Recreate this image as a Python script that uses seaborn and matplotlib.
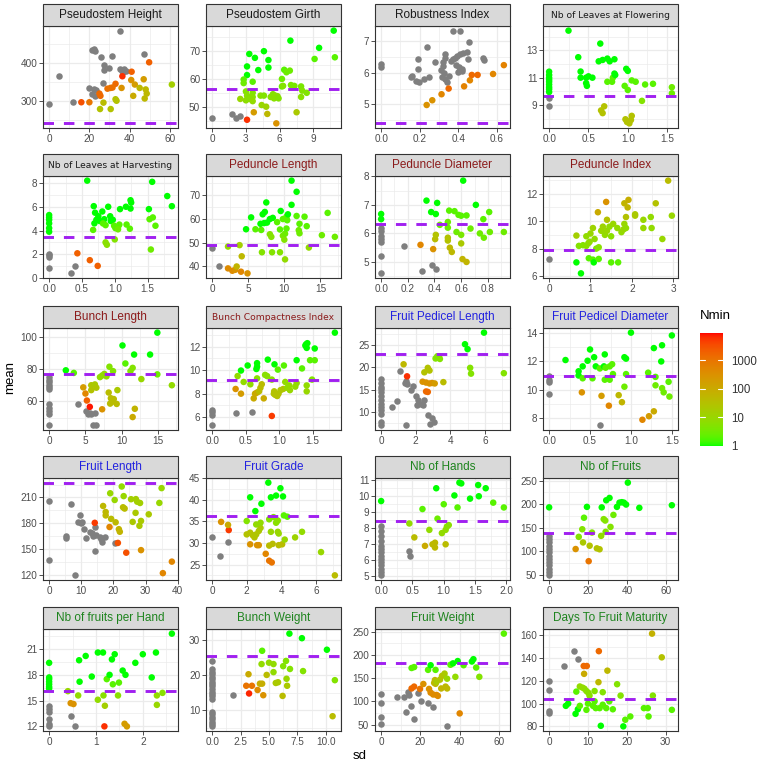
import numpy as np
import pandas as pd
import matplotlib
matplotlib.use("Agg")
import matplotlib.pyplot as plt
import seaborn as sns
from matplotlib.colors import ListedColormap, LogNorm
from matplotlib.ticker import FixedLocator, AutoMinorLocator
from matplotlib.patches import Rectangle
import matplotlib.colorbar as mcb

NA = float("nan")

# ---------------- data: (sd, mean, Nmin) per trait ----------------
ph_pts = [(0,291,NA),(4.8,366,NA),(12,297,NA),(35,486,NA),(21.5,434,NA),(22.5,436,NA),(23,433,NA),(26,417,NA),
          (31,419,NA),(27.3,396,NA),(27.3,381,NA),(30,387,NA),(35,383,NA),(36,380,NA),(37,384,NA),(36.5,376,NA),
          (38,379,NA),(47,424,NA),(20,335,NA),(22.5,330,NA),(23.5,328,NA),(21.5,318,NA),(23,313,NA),(27,346,NA),
          (49.7,402,2000),(36.4,365,6000),(41,377,2000),(33,345,1500),(29,332,1200),(30.5,334,1000),(31.5,335,1200),
          (25,319,1500),(25.5,313,1500),(16,296,3000),(20,296,1000),(36,334,300),(40.8,355,300),(42.6,343,200),
          (47,357,200),(45,334,50),(41.8,313,100),(48,330,50),(48.5,319,50),(47.5,306,50),(33,304,30),(33.5,300,30),
          (25.3,278,30),(30.6,278,30),(27,295,40),(61,343,15)]
ph_hline = 240
ph_xticks = ["0", "20", "40", "60"]
ph_yticks = ["300", "400"]

pg_pts = [(0,46.1,NA),(1.8,47.4,NA),(2.1,46.1,NA),(2.5,46.6,NA),(3.1,45.3,6000),(5.7,44,300),(3.7,48,200),(4.9,47.4,50),
          (7.5,48,20),(3.3,69,1),(3.1,64.5,1),(3.1,61.4,1),(2.8,59.8,2),(3.8,67.6,1),(4.1,63.2,1),(4.6,70,1),(5,66.8,1),
          (5,64.1,1),(6.95,73.8,1),(9.1,67.2,2),(9.5,71.2,1),(10.8,77.4,1),(10.9,67.8,2),(3.6,59,2),(6.4,63.3,2),
          (6.9,63,3),(6.6,62.4,3),(6.2,60,3),(6.2,57.3,3),(7,57.8,4),(7.3,57.5,4),(7.9,57.3,4),(8,55.8,5),(8.4,55,5),
          (7.9,53.5,6),(3,55.5,5),(3.1,54,6),(3.2,53,5),(3,52.3,7),(3.3,52.8,6),(3.6,55,5),(3.6,53.5,6),(3.6,52,8),
          (4.3,54,6),(4.6,54,5),(5.2,53.5,6),(5.4,54.5,5),(5.6,54,6),(5.8,53.8,7),(5.5,53,6),(5.9,53,5),(4.4,50.6,10),
          (4.8,50,12),(2.5,52.8,10),(2.8,58.5,3),(6.3,57.5,5)]
pg_hline = 56.2
pg_xticks = ["0", "3", "6", "9"]
pg_yticks = ["50", "60", "70"]

ri_pts = [(0,6.27,NA),(0,6.17,NA),(0.373,7.31,NA),(0.407,7.33,NA),(0.24,6.81,NA),(0.453,6.98,NA),(0.19,6.43,NA),
          (0.19,6.12,NA),(0.28,6.35,NA),(0.33,6.59,NA),(0.33,6.45,NA),(0.32,6.33,NA),(0.32,6.22,NA),(0.31,6.1,NA),
          (0.325,6.0,NA),(0.315,5.86,NA),(0.33,5.81,NA),(0.34,5.7,NA),(0.36,6.38,NA),(0.37,6.43,NA),(0.385,6.48,NA),
          (0.395,6.53,NA),(0.41,6.59,NA),(0.425,6.62,NA),(0.445,6.64,NA),(0.39,6.24,NA),(0.405,6.17,NA),(0.42,6.12,NA),
          (0.42,6.07,NA),(0.45,6.43,NA),(0.16,5.91,NA),(0.155,5.86,NA),(0.18,5.73,NA),(0.195,5.7,NA),(0.22,5.81,NA),
          (0.25,5.86,NA),(0.53,6.48,NA),(0.535,6.41,NA),(0.4,6.02,NA),(0.35,5.9,NA),
          (0.236,4.98,300),(0.265,5.13,300),(0.313,5.32,500),(0.35,5.5,1500),(0.43,5.57,600),(0.46,5.76,500),
          (0.47,5.93,1500),(0.5,5.93,1500),(0.58,5.96,500),(0.636,6.24,600)]
ri_hline = 4.4
ri_xticks = ["0.0", "0.2", "0.4", "0.6"]
ri_yticks = ["5", "6", "7"]

nlf_pts = [(0,8.95,NA),(0,9.5,NA),(0,11.44,1),(0,11.2,1),(0,11.0,1),(0,10.85,1),(0,10.7,1),(0,10.5,1),(0,10.3,1),
           (0,10.15,1),(0,9.95,1),(0.246,14.45,1),(0.37,12.5,1),(0.4,11.45,1),(0.4,11.0,1),(0.47,11.0,1),(0.5,11.1,1),
           (0.47,10.6,1),(0.48,10.4,1),(0.55,11.0,1),(0.65,13.5,1),(0.63,12.2,1),(0.68,12.3,1),(0.74,12.4,1),
           (0.77,12.2,1),(0.83,12.35,1),(0.74,10.7,2),(0.8,10.7,2),(0.81,11.0,2),(0.83,11.3,1),(0.84,11.2,1),
           (0.96,10.4,2),(0.98,11.65,1),(1.0,11.5,1),(1.0,10.1,2),(1.05,10.8,2),(1.1,10.7,2),(1.22,10.5,2),
           (1.32,10.55,2),(1.18,9.3,5),(1.56,10.3,3),(1.56,9.85,3),(0.66,8.6,30),(0.68,8.4,30),(0.7,8.9,30),
           (0.97,7.95,30),(0.99,7.75,30),(1.02,7.65,30),(1.05,8.2,30),(1.04,7.9,30)]
nlf_hline = 9.68
nlf_xticks = ["0.0", "0.5", "1.0", "1.5"]
nlf_yticks = ["9", "11", "13"]

nlh_pts = [(0,0.83,NA),(0,1.94,NA),(0,2.05,NA),(0,1.8,NA),(0.33,0.39,NA),(0.39,0.97,NA),(0.43,2.08,2000),
           (0.62,1.5,2000),(0.74,1.02,2000),(0,5.3,1),(0,5.1,1),(0,4.9,1),(0,4.6,1),(0,4.2,1),(0,3.9,1),(0.58,8.2,1),
           (1.57,8.1,1),(1.8,6.9,1),(1.87,6.05,1),(0.68,6.05,1),(0.7,5.5,1),(0.75,5.2,1),(0.72,4.9,1),(0.77,4.8,1),
           (0.69,4.6,1),(0.67,4.05,2),(0.81,5.6,1),(0.84,4.95,1),(0.82,4.6,2),(0.86,4.45,2),(0.9,6.0,1),(0.93,5.2,1),
           (0.97,4.9,1),(0.94,4.8,1),(0.99,4.4,2),(1.01,4.2,2),(1.05,4.3,2),(1.07,4.5,2),(1.05,4.1,3),(1.08,5.8,1),
           (1.17,6.0,1),(1.24,5.85,1),(1.24,6.55,1),(1.25,6.35,1),(1.18,4.5,2),(1.23,4.15,2),(1.52,5.8,1),
           (1.53,4.95,2),(1.58,5.1,2),(1.62,4.4,2),(0.86,3.0,6),(0.88,2.8,6),(1.0,3.25,5),(1.55,2.4,3)]
nlh_hline = 3.45
nlh_xticks = ["0.0", "0.5", "1.0", "1.5"]
nlh_yticks = ["0", "2", "4", "6", "8"]

pl_pts = [(0,47.8,NA),(1.0,40.3,NA),(2.2,39.2,400),(2.8,38.2,400),(3.2,38.6,300),(4.0,37.8,500),(4.9,37.1,300),
          (3.4,40,60),(4.1,44.3,50),(3.8,49,15),(2.2,48.4,10),(4.7,55.7,1),(5.4,60.7,1),(6,55.7,2),(6.8,55.4,2),
          (6.7,58,1),(7.2,58.3,1),(7,62,1),(7.3,63,1),(7.5,67,1),(7.6,58.5,1),(8.0,60,1),(8.4,60.5,1),(8.0,53.6,5),
          (8.2,52.5,5),(6.9,46,5),(8.3,46,5),(9.0,58.7,2),(9.5,63.4,1),(9.8,60,2),(9.4,55.6,2),(9.8,53,4),(10,51.3,5),
          (10.1,53.8,3),(10.3,56,2),(10.4,59.5,2),(10.3,61,2),(10.5,62,1),(11,76.2,1),(11,66,1),(11.7,71.5,1),
          (11.7,61.3,2),(12.1,58,2),(12,55.3,3),(12.1,54,3),(12.8,61,2),(13.1,57,2),(13.4,48,8),(15.2,53.2,3),
          (16,62.6,2),(17,52.5,3),(10.1,43,8),(9.4,46,5)]
pl_hline = 49
pl_xticks = ["0", "5", "10", "15"]
pl_yticks = ["40", "50", "60", "70"]

pd_pts = [(0,6.2,NA),(0,5.9,NA),(0,5.8,NA),(0,5.7,NA),(0,5.2,NA),(0,4.6,NA),(0,6.1,NA),(0,6.68,1),(0,6.5,1),
          (0.17,5.55,NA),(0.31,4.7,NA),(0.38,4.9,NA),(0.41,4.75,NA),(0.295,5.6,500),(0.39,5.45,300),(0.405,5.8,40),
          (0.41,5.95,30),(0.5,5.85,30),(0.5,5.75,30),(0.515,5.5,50),(0.53,5.35,50),(0.61,5.1,60),(0.64,5.0,60),
          (0.6,5.65,20),(0.34,7.15,1),(0.42,7.07,1),(0.375,6.75,1),(0.41,6.68,1),(0.615,7.85,1),(0.51,6.8,2),
          (0.55,6.78,2),(0.58,6.65,2),(0.6,6.62,2),(0.64,6.63,2),(0.71,7.0,1),(0.766,6.5,2),(0.81,6.75,2),
          (0.92,6.05,3),(0.44,6.3,3),(0.5,6.2,3),(0.565,6.05,3),(0.6,5.95,4),(0.67,6.17,3),(0.74,6.0,3),
          (0.77,5.85,3),(0.815,6.05,3),(0.5,6.4,3)]
pd_hline = 6.32
pd_xticks = ["0.0", "0.2", "0.4", "0.6", "0.8"]
pd_yticks = ["5", "6", "7", "8"]

pi_pts = [(0,7.25,NA),(0.66,7.0,1),(0.77,6.2,1),(0.96,7.3,2),(1.06,7.2,2),(1.08,7.0,1),(1.2,7.25,2),(1.5,7.0,2),
          (1.67,7.0,2),(0.66,8.95,15),(0.72,8.2,5),(0.82,8.25,5),(0.9,8.2,6),(0.95,8.4,6),(0.98,8.5,8),(1.0,9.1,10),
          (1.06,9.5,12),(1.1,8.7,8),(1.14,8.0,5),(1.26,9.3,10),(1.3,9.6,12),(1.35,9.0,8),(1.4,9.3,10),(1.46,9.6,8),
          (1.5,8.9,6),(1.55,9.8,10),(1.65,9.5,8),(1.75,9.2,8),(1.8,9.4,10),(1.82,9.8,10),(1.86,9.5,8),(0.9,8.9,8),
          (1.2,8.1,6),(1.18,10.65,100),(1.38,11.4,300),(1.4,10.1,30),(1.82,11.3,60),(1.92,11.55,80),(1.9,11.0,60),
          (1.86,10.3,30),(2.08,10.4,20),(2.08,10.5,20),(2.28,10.1,10),(2.28,9.5,10),(2.46,10.3,8),(2.48,9.5,8),
          (2.58,11.3,30),(2.74,8.7,10),(2.88,12.95,40),(2.97,10.4,10)]
pi_hline = 7.92
pi_xticks = ["0", "1", "2", "3"]
pi_yticks = ["6", "8", "10", "12"]

bl_pts = [(0,75,NA),(0,73.4,NA),(0,72,NA),(0,70.4,NA),(0,69,NA),(0,67.5,NA),(0,58.4,NA),(0,56,NA),(0,54.4,NA),
          (0,52.6,NA),(0,45.3,NA),(4,58.6,NA),(5.1,54,NA),(5.4,52.6,NA),(5.8,52,NA),(5.6,53,NA),(6.3,53,NA),
          (6,45.3,NA),(6.5,45.3,NA),(5.6,56.7,8000),(5.2,60.6,2000),(5,64.9,500),(4.7,68.7,200),(7.3,55.2,300),
          (5.8,67,30),(5.8,70,25),(6.3,70.5,20),(6.5,68.5,25),(8.2,65.5,40),(8.5,62,40),(8.8,60,40),(8.9,61.5,40),
          (9.3,58.5,40),(8.4,58.7,40),(9.4,67,20),(11.8,55.5,60),(11.5,50.4,100),(7.0,75,8),(7.3,76,8),(7.6,77,8),
          (7.9,75.5,8),(8.3,81.4,5),(8.8,78.7,5),(11.5,80.7,5),(11.2,78.7,5),(12.7,73.8,10),(16.9,70,8),
          (2.3,79.2,1),(3.4,77.6,2),(10.1,94.5,1),(10.5,83.4,2),(11.7,88.9,1),(13.9,88.9,1),(14.9,102.4,1),
          (14.9,76.7,3)]
bl_hline = 76.7
bl_xticks = ["0", "5", "10", "15"]
bl_yticks = ["60", "80", "100"]

bci_pts = [(0,6.6,NA),(0,6.45,NA),(0,6.2,NA),(0,5.3,NA),(0.35,6.35,NA),(0.59,6.4,NA),(0.89,6.1,5000),(0.35,8.4,300),
           (0.43,8.0,200),(0.62,7.6,100),(0.64,8.0,100),(0.67,8.1,100),(0.77,7.6,100),(0.7,8.2,40),(0.72,8.5,40),
           (0.74,8.8,40),(0.92,8.0,30),(0.94,7.9,30),(0.97,7.8,30),(0.99,8.0,30),(0.925,8.2,30),(1.02,8.3,25),
           (1.06,8.4,25),(0.38,9.5,8),(0.47,9.0,8),(0.57,8.8,8),(0.67,9.3,6),(0.79,9.6,6),(0.82,9.5,6),(0.89,9.2,6),
           (1.09,9.0,8),(1.12,8.5,8),(1.15,8.7,8),(1.16,8.3,10),(1.24,8.6,8),(1.26,8.9,8),(1.41,8.7,8),(1.41,8.2,10),
           (1.49,9.2,5),(0.43,9.97,1),(0.53,10.4,1),(0.67,10.6,1),(0.67,10.3,1),(0.66,10.1,1),(0.83,10.9,1),
           (0.93,10.5,1),(0.98,10.05,2),(1.07,10.4,2),(1.26,10.85,1),(1.34,10.15,2),(1.39,12.1,1),(1.4,12.2,1),
           (1.41,11.9,1),(1.42,12.3,1),(1.53,11.85,1),(1.46,10.85,2),(1.53,10.85,2),(1.83,13.2,1)]
bci_hline = 9.13
bci_xticks = ["0.0", "0.5", "1.0", "1.5"]
bci_yticks = ["6", "8", "10", "12"]

fpl_pts = [(0,17.5,NA),(0,16.6,NA),(0,15.6,NA),(0,15.1,NA),(0,14.4,NA),(0,13.5,NA),(0,12.6,NA),(0,11.9,NA),
           (0,11.1,NA),(0,10.4,NA),(0,9.6,NA),(0,7.7,NA),(0,7.0,NA),(0.65,11.1,NA),(0.9,12.4,NA),(1.08,19.15,NA),
           (1.4,16.6,NA),(1.45,17.0,NA),(1.5,16.3,NA),(1.45,7.0,NA),(1.7,15.0,NA),(1.85,15.8,NA),(2.0,13.5,NA),
           (2.1,11.6,NA),(2.15,12.8,NA),(2.3,11.9,NA),(2.5,12.6,NA),(2.45,11.5,NA),(2.7,9.3,NA),(2.95,8.7,NA),
           (3.05,7.7,NA),(2.8,7.3,NA),(1.5,18.0,6000),(2.6,14.6,1500),(2.7,14.5,1500),(2.4,16.8,300),(2.6,16.6,300),
           (2.8,16.4,300),(2.95,16.5,300),(3.1,16.4,200),(1.3,20.7,50),(2.5,18.9,30),(2.7,19.9,30),(2.8,19.3,30),
           (3.6,16.7,40),(3.15,22.0,5),(3.25,22.5,5),(3.4,21.9,5),(3.35,22.5,5),(5.15,19.9,5),(5.2,18.6,5),
           (7.1,18.7,5),(4.85,25.2,1),(5.0,24.1,1),(5.95,27.8,1)]
fpl_hline = 23.1
fpl_xticks = ["0", "2", "4", "6"]
fpl_yticks = ["10", "15", "20", "25"]

fpd_pts = [(0,10.95,NA),(0,10.7,NA),(0,10.55,NA),(0,9.65,NA),(0.62,7.45,NA),(0.4,9.8,300),(0.64,9.55,200),
           (0.73,8.85,500),(0.85,9.6,50),(0.89,9.1,60),(1.14,7.85,500),(1.22,8.1,200),(1.28,8.45,100),(0.2,12.1,1),
           (0.36,11.3,1),(0.36,11.0,1),(0.41,11.65,1),(0.47,12.05,1),(0.5,12.85,1),(0.55,12.3,1),(0.41,10.8,2),
           (0.53,10.8,2),(0.57,11.65,1),(0.62,11.5,2),(0.67,11.65,1),(0.69,11.55,2),(0.74,11.65,2),(0.77,11.8,2),
           (0.68,12.5,1),(0.68,10.7,2),(0.74,10.7,2),(0.78,11.1,2),(0.92,12.3,1),(0.94,12.2,1),(0.94,11.1,2),
           (0.92,10.2,3),(1.0,14.05,1),(1.21,11.2,2),(1.28,12.95,1),(1.38,13.15,1),(1.3,10.9,2),(1.3,10.3,3),
           (1.37,12.0,1),(1.38,10.1,3),(1.4,9.8,3),(1.46,10.55,2),(1.47,9.5,3),(1.5,13.85,1)]
fpd_hline = 10.97
fpd_xticks = ["0.0", "0.5", "1.0", "1.5"]
fpd_yticks = ["8", "10", "12", "14"]

fl_pts = [(0,205.4,NA),(0,137.5,NA),(6.9,202.7,NA),(5.4,165.3,NA),(5.4,162.3,NA),(8.2,119.2,NA),(9,181.5,NA),
          (9.5,189,NA),(10,180.4,NA),(10.3,181.5,NA),(11,172.7,NA),(11.6,162.4,NA),(12.6,170,NA),(13.4,168,NA),
          (13.8,164.5,NA),(14.4,176,NA),(14.6,166,NA),(14.4,147,NA),(15.7,164,NA),(16.2,161,NA),(16.5,158.6,NA),
          (17.3,164,NA),(20.4,156.5,NA),(14.2,180.4,5000),(21.4,157,3000),(24,145.6,3000),(18.8,175.5,500),
          (28.6,148.6,300),(35.4,121.8,500),(38.2,135.2,500),(16.8,200,50),(17.6,193,50),(17.6,189,50),
          (19.3,185,40),(20.7,181,50),(21.7,173,60),(22,170,60),(23,198.5,40),(23.5,197,40),(19,214.8,10),
          (20.4,207,10),(22.6,222.7,8),(23.2,211.5,10),(25.5,207.9,15),(27,208,15),(27.4,205,15),(28.3,203.5,15),
          (26.9,192,20),(26,181.5,20),(28.1,176.9,20),(28.6,182.6,20),(31,190.3,20),(34.3,203.6,10),(35,220.8,10)]
fl_hline = 227.2
fl_xticks = ["0", "10", "20", "30", "40"]
fl_yticks = ["120", "150", "180", "210"]

fg_pts = [(0,31.4,NA),(0.44,27,NA),(0.9,30.2,NA),(0.96,33,5000),(0.52,34.9,300),(0.92,34.2,100),(2.2,29.7,300),
          (2.6,29.5,300),(2.7,29.5,300),(3.1,27.5,500),(3.3,25.9,1000),(3.45,25.5,1000),(2.0,32.0,30),(2.2,32.4,30),
          (2.35,31.8,30),(2.45,31.3,30),(2.55,32.0,25),(2.7,32.8,25),(2.8,33.5,20),(3.3,29.4,40),(3.5,29.8,40),
          (3.85,29.5,40),(4.05,29.7,40),(6.3,27.9,10),(7.1,22.5,40),(2.0,35.1,5),(2.55,34.3,8),(2.8,34.7,8),
          (3.3,35.5,5),(3.55,36.0,5),(3.4,32.6,10),(3.8,32.6,10),(3.85,32.2,10),(4.2,30.8,10),(4.8,31.3,12),
          (5.2,32.6,8),(3.7,34.7,6),(3.8,35.2,6),(2.2,40.6,1),(2.5,37.4,1),(2.85,39.1,1),(3.25,44,1),(3.4,40.6,1),
          (3.7,41,1),(3.95,42.7,1),(4.1,40.8,1),(4.15,36.4,2),(4.35,36.1,2)]
fg_hline = 36.3
fg_xticks = ["0", "2", "4", "6"]
fg_yticks = ["25", "30", "35", "40", "45"]

nh_pts = [(0,8.15,NA),(0,7.85,NA),(0,7.54,NA),(0,7.2,NA),(0,6.92,NA),(0,6.71,NA),(0,6.5,NA),(0,6.3,NA),(0,6.09,NA),
          (0,5.89,NA),(0,5.68,NA),(0,5.47,NA),(0,5.27,NA),(0,5.06,NA),(0.45,6.6,NA),(0.46,6.3,NA),(0,9.7,1),
          (0.45,8.3,8),(0.77,7.9,8),(0.97,7.7,8),(1.03,7.9,8),(1.05,8.1,6),(1.08,8.2,6),(0.53,7.43,40),(0.7,6.9,100),
          (0.82,7.0,50),(0.86,7.1,50),(0.86,6.8,50),(1.03,7.0,40),(0.66,9.2,2),(0.88,10.5,1),(0.9,8.6,3),
          (1.0,9.5,2),(1.17,10.05,1),(1.22,9.3,2),(1.25,10.85,1),(1.28,10.8,1),(1.42,9.85,1),(1.55,10.7,1),
          (1.56,10.0,1),(1.67,10.5,1),(1.79,9.6,2),(1.96,9.3,2)]
nh_hline = 8.45
nh_xticks = ["0.0", "0.5", "1.0", "1.5", "2.0"]
nh_yticks = ["5", "6", "7", "8", "9", "10", "11"]

nf_pts = [(0,48.6,NA),(0,55.6,NA),(0,62.6,NA),(0,69.6,NA),(0,76.6,NA),(0,83.6,NA),(0,90.6,NA),(0,97.6,NA),
          (0,104.5,NA),(0,111.5,NA),(0,118.5,NA),(0,125.5,NA),(0,132.5,NA),(0,193,1),(13.6,104.5,300),
          (20.3,78.7,1000),(17.4,118.5,20),(20.8,111.5,30),(24.5,106,30),(25.9,104,30),(15.2,130.4,5),(17,146.5,5),
          (22,139.5,5),(26.7,132.5,8),(28,168,5),(28.8,165,5),(29,141,5),(31.5,151.5,5),(33,177,3),(17.9,171,2),
          (19.4,194,1),(27,193,1),(29.3,208,1),(31,213,1),(34.8,194,1),(36.1,203,1),(37.3,204,1),(38.4,203,1),
          (39.5,199,1),(40.4,245.5,1),(46.3,192,1),(63,197.5,1)]
nf_hline = 137.5
nf_xticks = ["0", "20", "40", "60"]
nf_yticks = ["50", "100", "150", "200", "250"]

nfh_pts = [(0,14.4,NA),(0,14.0,NA),(0,13.7,NA),(0,12.9,NA),(0,12.3,NA),(0,12.1,NA),(0.46,13.2,NA),(0.55,12.1,NA),
           (0,19.4,1),(0,17.7,1),(0,17.5,1),(0,17.2,1),(0,16.9,1),(0,16.6,1),(0,16.4,1),(1.18,12.0,6000),
           (0.46,14.7,300),(0.52,14.6,300),(1.61,12.3,200),(1.66,12.0,200),(0.4,16.1,10),(0.62,15.6,8),(1.04,15.1,8),
           (1.16,15.6,6),(1.19,14.4,15),(1.47,15.6,6),(2.3,15.6,8),(2.3,14.5,10),(2.42,15.9,6),(0.64,19.7,1),
           (0.65,17.2,1),(0.78,20.2,1),(0.91,17.8,1),(1.04,20.6,1),(1.15,20.6,1),(1.23,17.5,2),(1.29,18.0,1),
           (1.34,19.8,1),(1.4,20.4,1),(1.36,16.9,2),(1.49,17.1,2),(1.57,18.5,1),(1.63,18.0,1),(1.84,19.4,1),
           (2.0,20.4,1),(2.19,17.7,1),(2.28,20.6,1),(2.62,22.8,1)]
nfh_hline = 16.1
nfh_xticks = ["0", "1", "2"]
nfh_yticks = ["12", "15", "18", "21"]

bw_pts = [(0,24.2,NA),(0,21.7,NA),(0,20.95,NA),(0,20.3,NA),(0,19.6,NA),(0,18.9,NA),(0,18.1,NA),(0,17.5,NA),
          (0,16.8,NA),(0,16.1,NA),(0,15.3,NA),(0,14.7,NA),(0,14.0,NA),(0,13.3,NA),(0,9.5,NA),(0,8.8,NA),(0,8.1,NA),
          (0,7.5,NA),(0,6.7,NA),(0,6.0,NA),(0,5.4,NA),(1.8,14.3,NA),(3.25,14.8,7000),(3.0,17,1000),(3.5,17,1000),
          (4.0,15.8,400),(4.5,14.3,300),(3.2,20.3,100),(4.2,17.6,80),(4.4,17.6,80),(4.8,20.1,40),(5.6,17.8,20),
          (5.8,18,20),(6.2,14.1,40),(6.6,17,20),(10.6,8.3,40),(4.35,23.2,8),(5.0,23.6,8),(5.4,23.2,8),(5.4,20.9,8),
          (6.5,24.1,5),(6.55,19.0,10),(6.85,21.8,5),(6.25,22.6,5),(8.0,21.2,5),(10.8,18.6,5),(4.4,27,2),
          (6.8,31.9,1),(7.9,30.6,1),(10.1,27.3,1)]
bw_hline = 25.5
bw_xticks = ["0.0", "2.5", "5.0", "7.5", "10.0"]
bw_yticks = ["10", "20", "30"]

fw_pts = [(0,116.4,NA),(0,96.4,NA),(0,66.4,NA),(0,51.4,NA),(8,108.6,NA),(11.8,108.6,NA),(12.6,76.4,NA),
          (13.8,120,NA),(14.3,114,NA),(15.1,89.3,NA),(16.8,62,NA),(18.8,118.6,NA),(20.5,100,NA),(23.9,96.4,NA),
          (26.6,87.9,NA),(33.6,46.4,NA),(16.8,132,1500),(19.8,127,1000),(15.5,128,1500),(21.5,137.6,300),
          (40,74.3,500),(24.4,127,300),(25.2,119,400),(26.5,115,400),(28.2,114,400),(28.9,112,400),(27,140,50),
          (27.4,146,50),(27.7,138,50),(30.6,128,60),(32.8,132,50),(33.6,128,50),(30,147,30),(31,155,30),
          (32.3,160,20),(28.2,142,20),(33.6,149,10),(37.8,153,8),(50,153,5),(15.5,172,2),(16.8,174,2),
          (23.9,168,2),(25.2,178,1),(27.7,168,2),(35.3,179,2),(36.6,182,1),(39,187,1),(42,178,2),(46.2,186,1),
          (47,191,1),(48.4,173,2),(62.5,246,2)]
fw_hline = 183.6
fw_xticks = ["0", "20", "40", "60"]
fw_yticks = ["50", "100", "150", "200", "250"]

dfm_pts = [(0,120,NA),(0,112.1,NA),(0,93.4,NA),(0,91.9,NA),(3.85,133,NA),(6.4,146,NA),(7.4,138.8,NA),
           (8.9,133,1500),(9.7,133,1500),(12.8,146,1500),(9,126.1,100),(12.7,118.8,50),(15,128.9,50),
           (26.5,161.4,70),(29,140.6,30),(7.9,115,8),(8.6,114,8),(9.1,113,8),(9.6,111,6),(10.1,109.5,6),
           (10.4,107,6),(11.7,111,5),(13.8,110,5),(17.5,117,5),(18.4,107,5),(26.7,107,5),(4.3,98,1),(4.9,100,1),
           (7,110.5,2),(6.8,91,1),(7.4,95,1),(7.9,98,2),(9.6,94.5,2),(10,100,2),(11.3,98,2),(11.7,102,2),(12,96,2),
           (13,96,2),(13.3,80.5,1),(13.8,99,2),(14.7,96,2),(15.5,102,2),(16.4,95,2),(19.1,80,1),(19.6,85.8,2),
           (20.9,88.7,2),(24.4,96,2),(25.4,96,2),(25.6,88.7,2),(31.6,94.5,2)]
dfm_hline = 104.3
dfm_xticks = ["0", "10", "20", "30"]
dfm_yticks = ["80", "100", "120", "140", "160"]

nmin_ticks = ["1", "10", "100", "1000"]
nmin_max = 9000

# ---------------- colour scale: green -> red interpolated in CIELAB ----------------
_M = np.array([[0.4124, 0.3576, 0.1805], [0.2126, 0.7152, 0.0722], [0.0193, 0.1192, 0.9505]])
_WP = np.array([0.95047, 1.0, 1.08883])

def _srgb_to_lab(rgb):
    c = np.asarray(rgb, float)
    lin = np.where(c <= 0.04045, c / 12.92, ((c + 0.055) / 1.055) ** 2.4)
    xyz = _M @ lin / _WP
    f = np.where(xyz > 0.008856, np.cbrt(xyz), 7.787 * xyz + 16 / 116)
    return np.array([116 * f[1] - 16, 500 * (f[0] - f[1]), 200 * (f[1] - f[2])])

def _lab_to_srgb(lab):
    L, a, b = lab
    fy = (L + 16) / 116
    f = np.array([fy + a / 500, fy, fy - b / 200])
    xyz = np.where(f ** 3 > 0.008856, f ** 3, (f - 16 / 116) / 7.787) * _WP
    lin = np.clip(np.linalg.inv(_M) @ xyz, 0, 1)
    return np.clip(np.where(lin <= 0.0031308, 12.92 * lin, 1.055 * lin ** (1 / 2.4) - 0.055), 0, 1)

_lo, _hi = _srgb_to_lab([0, 1, 0]), _srgb_to_lab([1, 0, 0])
cmap = ListedColormap([_lab_to_srgb(_lo + t * (_hi - _lo)) for t in np.linspace(0, 1, 256)])
norm = LogNorm(vmin=1, vmax=nmin_max)

# ---------------- layout ----------------
sns.set_style("white")
plt.rcParams["font.family"] = ["Liberation Sans", "DejaVu Sans"]

W, H = 760, 768
fig = plt.figure(figsize=(W / 100, H / 100), dpi=100)

col_left = [43, 206, 375, 543]
row_top = [26, 176, 328, 478, 629]
PW, PH_, SH = 135, 102, 22

BLACK, DRED, BLUE, DGREEN = "#1A1A1A", "#8B1A1A", "#2222E0", "#1E841E"
panels = [
    ("Pseudostem Height", ph_pts, ph_hline, ph_xticks, ph_yticks, BLACK, 8.5),
    ("Pseudostem Girth", pg_pts, pg_hline, pg_xticks, pg_yticks, BLACK, 8.5),
    ("Robustness Index", ri_pts, ri_hline, ri_xticks, ri_yticks, BLACK, 8.5),
    ("Nb of Leaves at Flowering", nlf_pts, nlf_hline, nlf_xticks, nlf_yticks, BLACK, 6.6),
    ("Nb of Leaves at Harvesting", nlh_pts, nlh_hline, nlh_xticks, nlh_yticks, BLACK, 6.6),
    ("Peduncle Length", pl_pts, pl_hline, pl_xticks, pl_yticks, DRED, 8.5),
    ("Peduncle Diameter", pd_pts, pd_hline, pd_xticks, pd_yticks, DRED, 8.5),
    ("Peduncle Index", pi_pts, pi_hline, pi_xticks, pi_yticks, DRED, 8.5),
    ("Bunch Length", bl_pts, bl_hline, bl_xticks, bl_yticks, DRED, 8.5),
    ("Bunch Compactness Index", bci_pts, bci_hline, bci_xticks, bci_yticks, DRED, 6.6),
    ("Fruit Pedicel Length", fpl_pts, fpl_hline, fpl_xticks, fpl_yticks, BLUE, 8.5),
    ("Fruit Pedicel Diameter", fpd_pts, fpd_hline, fpd_xticks, fpd_yticks, BLUE, 8.5),
    ("Fruit Length", fl_pts, fl_hline, fl_xticks, fl_yticks, BLUE, 8.5),
    ("Fruit Grade", fg_pts, fg_hline, fg_xticks, fg_yticks, BLUE, 8.5),
    ("Nb of Hands", nh_pts, nh_hline, nh_xticks, nh_yticks, DGREEN, 8.5),
    ("Nb of Fruits", nf_pts, nf_hline, nf_xticks, nf_yticks, DGREEN, 8.5),
    ("Nb of fruits per Hand", nfh_pts, nfh_hline, nfh_xticks, nfh_yticks, DGREEN, 8.5),
    ("Bunch Weight", bw_pts, bw_hline, bw_xticks, bw_yticks, DGREEN, 8.5),
    ("Fruit Weight", fw_pts, fw_hline, fw_xticks, fw_yticks, DGREEN, 8.5),
    ("Days To Fruit Maturity", dfm_pts, dfm_hline, dfm_xticks, dfm_yticks, DGREEN, 8.5),
]
small_font = {"Nb of Leaves at Flowering", "Nb of Leaves at Harvesting", "Bunch Compactness Index"}

PT_SIZE = 22
for i, (title, pts, hline, xt, yt, tcol, tsize) in enumerate(panels):
    r, c = divmod(i, 4)
    L, T = col_left[c], row_top[r]
    ax = fig.add_axes([L / W, 1 - (T + PH_) / H, PW / W, PH_ / H])
    df = pd.DataFrame(pts, columns=["sd", "mean", "Nmin"])
    na = df[df["Nmin"].isna()]
    ok = df[df["Nmin"].notna()]
    if len(na):
        sns.scatterplot(data=na, x="sd", y="mean", color="#7F7F7F", s=PT_SIZE, linewidth=0, ax=ax, zorder=3)
    sns.scatterplot(data=ok, x="sd", y="mean", hue="Nmin", palette=cmap, hue_norm=norm,
                    s=PT_SIZE, linewidth=0, ax=ax, legend=False, zorder=3)
    ax.axhline(hline, color="#A020F0", lw=2.1, ls=(0, (3.6, 3.4)), zorder=4)

    x0, x1 = df["sd"].min(), df["sd"].max()
    y0, y1 = min(df["mean"].min(), hline), max(df["mean"].max(), hline)
    dx, dy = (x1 - x0) * 0.05, (y1 - y0) * 0.05
    ax.set_xlim(x0 - dx, x1 + dx)
    ax.set_ylim(y0 - dy, y1 + dy)

    xv = [float(s) for s in xt]
    yv = [float(s) for s in yt]
    ax.xaxis.set_major_locator(FixedLocator(xv))
    ax.yaxis.set_major_locator(FixedLocator(yv))
    ax.set_xticklabels(xt)
    ax.set_yticklabels(yt)
    ax.xaxis.set_minor_locator(AutoMinorLocator(2))
    ax.yaxis.set_minor_locator(AutoMinorLocator(2))
    ax.grid(which="major", color="#EBEBEB", lw=0.9, zorder=0)
    ax.grid(which="minor", color="#EBEBEB", lw=0.5, zorder=0)
    ax.set_axisbelow(True)
    ax.tick_params(which="major", length=2.6, width=0.6, color="#333333", labelsize=7.2,
                   labelcolor="#4D4D4D", pad=1.5, bottom=True, left=True)
    ax.tick_params(which="minor", length=0)
    ax.set_xlabel("")
    ax.set_ylabel("")
    for sp in ax.spines.values():
        sp.set_color("#333333")
        sp.set_linewidth(0.8)
        sp.set_zorder(5)

    # facet strip
    ax.add_patch(Rectangle((0, 1), 1, SH / PH_, transform=ax.transAxes, clip_on=False,
                           facecolor="#D9D9D9", edgecolor="#333333", lw=0.8, zorder=6))
    fam = ["DejaVu Sans"] if title in small_font else ["Liberation Sans", "DejaVu Sans"]
    ax.text(0.5, 1 + SH / PH_ / 2, title, transform=ax.transAxes, ha="center", va="center",
            fontsize=tsize, color=tcol, family=fam, zorder=7)

# axis titles
fig.text(10 / W, 1 - 378 / H, "mean", rotation=90, ha="center", va="center", fontsize=9.5, color="black")
fig.text(360 / W, 1 - 756 / H, "sd", ha="center", va="center", fontsize=9.5, color="black")

# colour bar legend
cax = fig.add_axes([700 / W, 1 - 446 / H, 23 / W, 113 / H])
cb = mcb.ColorbarBase(cax, cmap=cmap, norm=norm, orientation="vertical")
cb.outline.set_visible(False)
tv = [float(s) for s in nmin_ticks]
cb.set_ticks(tv)
cb.set_ticklabels(nmin_ticks)
cax.minorticks_off()
cax.tick_params(length=0, labelsize=8.3, labelcolor="#333333", pad=6)
for v in tv[1:]:
    cax.plot([0, 0.2], [v, v], color="white", lw=0.8, transform=cax.get_yaxis_transform())
    cax.plot([0.8, 1], [v, v], color="white", lw=0.8, transform=cax.get_yaxis_transform())
fig.text(700 / W, 1 - 316 / H, "Nmin", ha="left", va="center", fontsize=9.5, color="black")

fig.savefig("out.png", dpi=100)
